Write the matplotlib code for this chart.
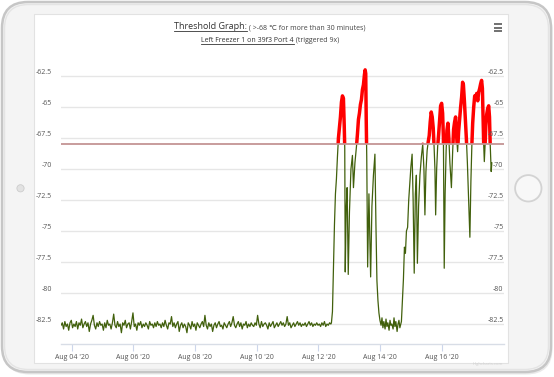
import numpy as np
import pandas as pd
import matplotlib
matplotlib.use('Agg')
import matplotlib.pyplot as plt
from matplotlib import transforms
from matplotlib.patches import FancyBboxPatch, Rectangle, Circle

# --- data -------------------------------------------------------------
threshold = -68.0

# quiet period: one reading every hour from the start of the chart
base_start = '2020-08-03 15:40'
base_step_hours = 1
base_values = [
    -82.6, -82.4, -82.9, -82.3, -82.7, -82.5, -83.0, -82.4, -82.2, -82.8,
    -82.5, -82.7, -82.3, -82.9, -82.4, -82.6, -82.1, -82.8, -82.5, -82.3,
    -82.7, -82.4, -83.1, -82.5, -82.2, -81.8, -82.6, -82.9, -82.4, -82.7,
    -82.3, -82.6, -82.5, -83.0, -82.4, -82.8, -82.2, -82.6, -82.5, -82.9,
    -82.4, -81.7, -82.6, -82.8, -82.3, -82.7, -82.5, -83.2, -82.4, -82.6,
    -82.2, -82.8, -82.5, -82.4, -82.9, -82.3, -81.6, -82.7, -82.5, -83.0,
    -82.4, -82.6, -82.3, -82.8, -82.5, -82.7, -82.4, -82.6, -82.9, -82.3,
    -82.6, -82.5, -82.8, -82.4, -82.7, -82.3, -82.6, -82.5, -82.8, -82.4,
    -82.7, -82.2, -82.6, -82.9, -82.4, -82.5, -81.9, -82.7, -82.4, -82.8,
    -82.5, -82.3, -83.1, -82.6, -82.4, -82.8, -82.5, -82.7, -83.2, -82.4,
    -82.6, -82.9, -82.3, -82.7, -82.5, -83.0, -82.4, -82.6, -82.8, -82.5,
    -82.3, -82.7, -81.8, -82.6, -82.9, -82.4, -82.7, -82.5, -83.1, -82.6,
    -82.4, -82.8, -82.5, -82.3, -82.7, -82.6, -82.9, -82.4, -82.6, -82.8,
    -82.5, -82.3, -82.7, -82.4, -81.9, -82.6, -82.8, -82.5, -82.3, -82.7,
    -82.4, -82.9, -82.5, -82.6, -82.3, -82.8, -82.5, -82.7, -82.4, -82.6,
    -82.7, -82.4, -82.6, -81.8, -82.5, -82.8, -82.3, -82.7, -82.5, -82.4,
    -82.6, -82.9, -82.4, -82.7, -82.5, -82.3, -82.8, -82.6, -82.4, -82.7,
    -82.5, -82.3, -82.6, -82.4, -82.7, -82.5, -81.9, -82.6, -82.4, -82.8,
    -82.6, -82.4, -82.7, -82.5, -82.3, -82.6, -82.4, -82.7, -82.5, -82.6,
    -82.4, -82.7, -82.5, -82.3, -82.6, -82.4, -82.7, -82.5, -82.6, -82.4,
    -82.6, -82.5, -82.7, -82.4, -82.6, -82.3, -82.7, -82.5, -82.6, -82.4,
    -82.5,
]

# active period: days after Aug 04 00:00 and readings
active_days = [
    8.421, 8.454, 8.486, 8.519, 8.551, 8.583, 8.616, 8.648, 8.681, 8.713,
    8.746, 8.778, 8.810, 8.836, 8.853, 8.869, 8.901, 8.930, 8.966, 9.005,
    9.054, 9.102, 9.135, 9.183, 9.232, 9.264, 9.297, 9.329, 9.361, 9.394,
    9.426, 9.459, 9.491, 9.514, 9.533, 9.549, 9.566, 9.595, 9.637, 9.692,
    9.734, 9.783, 9.831, 9.864, 9.896, 9.929, 9.961, 9.994,
    10.03, 10.06, 10.09, 10.12, 10.16, 10.19, 10.22, 10.25, 10.29, 10.32,
    10.35, 10.38, 10.42, 10.45, 10.48, 10.51, 10.55, 10.58, 10.61, 10.64,
    10.690, 10.723, 10.755, 10.788, 10.820, 10.853, 10.891, 10.927, 10.966, 10.998,
    11.037, 11.070, 11.105, 11.142, 11.175, 11.208, 11.247, 11.290, 11.338, 11.381,
    11.420, 11.452, 11.485, 11.524, 11.559, 11.592, 11.624, 11.657, 11.689, 11.722,
    11.751, 11.777, 11.800, 11.833, 11.865, 11.897, 11.929, 11.961, 11.994, 12.026,
    12.052, 12.078, 12.107, 12.140, 12.165, 12.198, 12.230, 12.262, 12.311, 12.353,
    12.382, 12.415, 12.447, 12.479, 12.512, 12.544, 12.577, 12.610, 12.642, 12.674,
    12.700, 12.732, 12.765, 12.797, 12.829, 12.862, 12.910, 12.943, 12.975, 13.001,
    13.034, 13.066, 13.099, 13.131, 13.164, 13.196, 13.228, 13.261, 13.290, 13.316,
    13.342, 13.358, 13.378, 13.404, 13.427, 13.455, 13.488, 13.520, 13.546, 13.566,
    13.585, 13.601, 13.621,
]
active_values = [
    -82.4, -81.5, -78.0, -74.5, -72.0, -70.8, -69.0, -67.5, -66.6, -65.8,
    -64.6, -64.1, -64.3, -66.5, -68.3, -78.3, -73.0, -71.5, -78.5, -73.5,
    -70.0, -68.9, -71.5, -69.5, -68.2, -67.2, -66.0, -65.5, -64.8, -64.4,
    -63.6, -63.2, -62.4, -62.0, -62.3, -66.0, -69.0, -77.9, -72.0, -78.7,
    -73.0, -70.5, -68.8, -74.5, -79.0, -80.6, -81.6, -82.2,
    -82.6, -82.0, -82.8, -82.3, -82.9, -82.1, -82.7, -82.4, -83.0, -82.2,
    -82.6, -82.5, -82.9, -82.0, -82.7, -82.3, -83.1, -82.5, -82.2, -82.8,
    -82.3, -80.5, -78.9, -76.3, -76.8, -75.0, -74.7, -72.5, -71.0, -69.8,
    -68.8, -72.5, -78.4, -72.0, -70.5, -77.6, -73.0, -70.5, -69.0, -68.0,
    -70.0, -73.7, -70.2, -68.5, -67.8, -67.3, -66.2, -65.4, -65.8, -66.7,
    -68.3, -70.0, -73.7, -70.0, -68.2, -67.2, -66.0, -64.9, -64.7, -65.5,
    -67.5, -78.0, -72.0, -68.5, -66.9, -66.3, -67.6, -69.5, -71.5, -68.5,
    -66.8, -66.2, -65.8, -67.3, -68.6, -67.0, -66.0, -65.0, -64.2, -63.0,
    -63.2, -64.5, -66.0, -67.6, -69.5, -72.0, -75.5, -71.0, -68.0, -66.3,
    -65.0, -64.1, -64.3, -63.9, -64.5, -63.8, -63.5, -63.1, -62.85, -63.5,
    -66.5, -68.0, -69.4, -68.0, -66.5, -65.6, -65.1, -64.9, -65.8, -67.8,
    -69.0, -70.2, -69.5,
]

y_ticks = [-82.5, -80, -77.5, -75, -72.5, -70, -67.5, -65, -62.5]
x_ticks = ['2020-08-04', '2020-08-06', '2020-08-08', '2020-08-10',
           '2020-08-12', '2020-08-14', '2020-08-16']

# --- build series -----------------------------------------------------
base_times = pd.Timestamp(base_start) + pd.to_timedelta(
    np.arange(len(base_values)) * base_step_hours, unit='h')
active_times = pd.Timestamp('2020-08-04') + pd.to_timedelta(active_days, unit='D')
times = base_times.append(active_times)
values = np.array(base_values + active_values)

plt.rcParams['font.family'] = ['Open Sans', 'DejaVu Sans']

W, H = 554, 377
fig = plt.figure(figsize=(W / 100, H / 100), dpi=100)

# --- tablet frame (pixel coordinates) ---------------------------------
bg = fig.add_axes([0, 0, 1, 1])
bg.set_xlim(0, W)
bg.set_ylim(H, 0)
bg.axis('off')

bg.add_patch(FancyBboxPatch((3.5, 3.5), 549, 371,
                            boxstyle='round,pad=0,rounding_size=26',
                            fc='#e9e9e9', ec='none'))
bg.add_patch(FancyBboxPatch((2, 2), 549, 370,
                            boxstyle='round,pad=0,rounding_size=26',
                            fc='#f4f4f4', ec='#c6c6c6', lw=1.8))
bg.add_patch(FancyBboxPatch((4.5, 4.5), 544, 365,
                            boxstyle='round,pad=0,rounding_size=24',
                            fc='none', ec='#e4e4e4', lw=1.0))
bg.add_patch(Rectangle((33.5, 13.5), 474, 349, fc='white', ec='#e2e2e2', lw=0.8))
bg.add_patch(Circle((528.3, 188.3), 13.2, fc='#f8f8f8', ec='#d3d3d3', lw=1.3))
bg.add_patch(Circle((20.5, 188.3), 3.6, fc='#e2e2e2', ec='#cccccc', lw=0.6))

# hamburger menu
for yy in (24.0, 27.7, 31.4):
    bg.plot([494, 501.5], [yy, yy], color='#666666', lw=1.3, solid_capstyle='butt')


def text_row(y, pieces, cx=270):
    """Centered row of text pieces, some underlined."""
    arts = []
    for txt, size, color, under in pieces:
        arts.append(bg.text(0, y, txt, fontsize=size, color=color,
                            ha='left', va='baseline'))
    fig.canvas.draw()
    r = fig.canvas.get_renderer()
    widths = [a.get_window_extent(r).width for a in arts]
    x = cx - sum(widths) / 2
    for a, w, (txt, size, color, under) in zip(arts, widths, pieces):
        a.set_x(x)
        if under:
            bg.plot([x, x + w], [y + 1.6, y + 1.6], color=color, lw=0.6)
        x += w


text_row(29.3, [('Threshold Graph:', 6.5, '#333333', True),
                (' ( >-68 ℃ for more than 30 minutes)', 5.0, '#444444', False)])
text_row(42.3, [('Left Freezer 1 on 39f3 Port 4', 5.0, '#333333', True),
                (' (triggered 9x)', 5.0, '#444444', False)])

bg.text(503, 364.5, 'Highcharts.com', fontsize=3, color='#d0d0d0',
        ha='right', va='center')

# --- chart ------------------------------------------------------------
left, right, top, bottom = 61, 503.5, 65, 344
ax = fig.add_axes([left / W, 1 - bottom / H, (right - left) / W, (bottom - top) / H])
ax.patch.set_alpha(0)

ax.plot(times, values, color='#41600c', lw=0.9, zorder=2)
red, = ax.plot(times, values, color='#ff0000', lw=2.5, zorder=3,
               solid_joinstyle='round')
above = Rectangle((0, threshold), 1, 30,
                  transform=transforms.blended_transform_factory(ax.transAxes, ax.transData))
red.set_clip_path(above)

ax.axhline(threshold, color='#c49494', lw=1.3, zorder=4)

ax.set_xlim(pd.Timestamp('2020-08-03 15:40'), pd.Timestamp('2020-08-18 00:00'))
ax.set_ylim(-84.11, -61.61)

for v in y_ticks:
    ax.axhline(v, color='#e6e6e6', lw=1.0, zorder=1)

tick_dates = pd.to_datetime(x_ticks)
ax.set_xticks(tick_dates)
ax.set_xticklabels([d.strftime("%b %d '%y") for d in tick_dates],
                   fontsize=5, color='#555555')
ax.tick_params(axis='x', length=5, width=0.8, color='#ccd6eb', pad=2.5)
ax.set_yticks([])

for s in ('top', 'left', 'right'):
    ax.spines[s].set_visible(False)
ax.spines['bottom'].set_color('#d8dde6')
ax.spines['bottom'].set_linewidth(1.0)

up = transforms.ScaledTranslation(0, 3.5 / 100, fig.dpi_scale_trans)
lab_tr = transforms.blended_transform_factory(ax.transAxes, ax.transData) + up
for v in y_ticks:
    lab = '%g' % v
    ax.text(-9 / (right - left), v, lab, transform=lab_tr, fontsize=5,
            color='#555555', ha='right', va='center', clip_on=False)
    ax.text(1.0, v, lab, transform=lab_tr, fontsize=5, color='#555555',
            ha='right', va='center', clip_on=False, zorder=5)

fig.savefig('out.png', dpi=100)
